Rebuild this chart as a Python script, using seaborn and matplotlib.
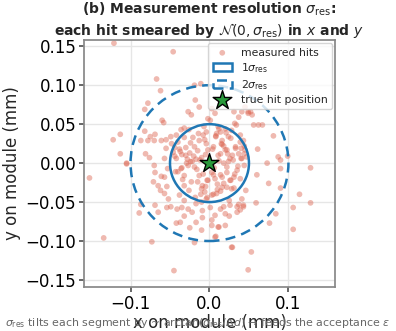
import numpy as np
import pandas as pd
import matplotlib
matplotlib.use("Agg")
import matplotlib.pyplot as plt
from matplotlib.patches import Circle
import seaborn as sns

sigma_res = 0.05
true_x = [0.0]
true_y = [0.0]

hits_x = [
    -0.121, -0.046, -0.067, -0.062, -0.078, -0.082, -0.060, -0.058, -0.019, -0.011,
    -0.018, -0.013, -0.027, -0.023, -0.002, -0.113, -0.122, -0.113, -0.082, -0.075,
    -0.069, -0.087, -0.078, -0.070, -0.081, -0.076, -0.105,
    -0.061, -0.055, -0.049, -0.042, -0.036, -0.032, -0.026, -0.032, -0.040, -0.048,
    -0.055, -0.044, -0.037, -0.030, -0.024, -0.019, -0.013, -0.008, -0.004, -0.015,
    -0.010, -0.057, -0.042, -0.035, -0.028, -0.022, -0.017, -0.004, -0.002, -0.005,
    0.003, 0.007, 0.001, 0.011, 0.009, 0.016, 0.005, 0.020, 0.024, 0.028,
    0.032, 0.037, 0.041, 0.045, 0.049, 0.054, 0.039, 0.043, 0.033, 0.037,
    0.026, 0.011, 0.045, 0.041, 0.047, 0.018,
    0.052, 0.056, 0.062, 0.067, 0.081, 0.061, 0.087, 0.090, 0.099, 0.073,
    0.090, 0.128, 0.060, 0.075, 0.090, 0.114, 0.128, 0.059, 0.043, 0.035,
    0.106, 0.084, 0.076, 0.106, 0.029, 0.053, 0.049, 0.040, 0.044, 0.035,
    0.027, 0.039, 0.046, 0.031, 0.022, 0.014, 0.005, -0.003, -0.010, 0.001,
    0.012, 0.008, 0.025, 0.039, 0.018,
    0.031, 0.049, 0.034, 0.020, 0.014, 0.008, 0.027, 0.039, 0.033, 0.022,
    0.014, 0.029, 0.044, 0.022, 0.031, 0.014, 0.005, -0.003, -0.005,
    -0.152, -0.105, -0.134, -0.073, -0.045, -0.070, -0.069, -0.061, -0.057, -0.071,
    -0.065, -0.054, -0.062, -0.057, -0.052, -0.087, -0.069, -0.054, -0.049, -0.089,
    -0.065, -0.041, -0.035, -0.027, -0.022, -0.042, -0.037, -0.025, -0.017, -0.010,
    -0.019, -0.032, -0.009, -0.009, -0.017, -0.032, -0.038, -0.053,
    -0.036, -0.032, -0.040, -0.027, -0.019, -0.013, -0.009, -0.006, -0.004, -0.010,
    -0.023, -0.015, -0.032, -0.043,
    0.003, 0.007, 0.016, 0.022, 0.026, 0.028, 0.016, 0.003, 0.009, 0.014,
    0.020, 0.007, 0.003, 0.020, 0.011, 0.026, 0.037, 0.043, 0.035, 0.025,
    0.041, 0.007, 0.028, 0.003,
    -0.012, -0.020, 0.006, 0.012, -0.025, 0.018, -0.008, 0.004, -0.016, 0.010,
    -0.030, -0.038, -0.044, -0.021, -0.014, -0.006, 0.008, 0.015, 0.023, 0.030,
    0.036, 0.040, 0.018, 0.010, -0.002, -0.011, -0.026, -0.034, -0.029, -0.018,
    -0.007, 0.012, 0.021, 0.032, 0.024, -0.035, -0.024, -0.046, 0.044, 0.016,
]
hits_y = [
    0.154, 0.143, 0.108, 0.093, 0.077, 0.069, 0.055, 0.052, 0.100, 0.102,
    0.081, 0.072, 0.066, 0.062, 0.057, 0.037, 0.030, 0.012, 0.041, 0.034,
    0.037, 0.029, 0.029, 0.029, 0.012, 0.007, 0.000,
    0.029, 0.030, 0.034, 0.036, 0.043, 0.045, 0.043, 0.033, 0.027, 0.025,
    0.019, 0.020, 0.015, 0.020, 0.026, 0.021, 0.029, 0.036, 0.040, 0.016,
    0.007, 0.006, 0.006, 0.011, 0.005, 0.002, 0.005, 0.025, 0.017, 0.011,
    0.070, 0.064, 0.055, 0.047, 0.038, 0.029, 0.021, 0.017, 0.034, 0.042,
    0.051, 0.059, 0.066, 0.072, 0.066, 0.062, 0.036, 0.029, 0.021, 0.012,
    0.006, 0.010, 0.017, 0.006, 0.008, 0.000,
    0.066, 0.049, 0.049, 0.049, 0.035, 0.018, 0.008, 0.004, 0.009, 0.000,
    -0.007, -0.006, -0.015, -0.026, -0.032, -0.040, -0.051, -0.051, -0.056, -0.056,
    -0.057, -0.065, -0.077, -0.085, -0.108, -0.114, -0.137, 0.006, -0.003, -0.009,
    -0.022, -0.020, -0.035, -0.032, -0.031, -0.036, -0.040, -0.044, -0.050, -0.057,
    -0.082, -0.094, -0.068, -0.060, -0.056,
    0.066, 0.064, 0.049, 0.044, 0.040, 0.034, 0.032, 0.027, 0.019, 0.017,
    0.012, 0.010, 0.012, -0.005, -0.018, -0.015, -0.015, -0.022, -0.030,
    -0.019, -0.001, -0.096, -0.101, -0.138, -0.003, -0.012, -0.017, -0.018, -0.024,
    -0.029, -0.030, -0.035, -0.039, -0.046, -0.053, -0.054, -0.057, -0.056, -0.064,
    -0.063, -0.059, -0.057, -0.059, -0.063, -0.077, -0.076, -0.083, -0.076, -0.086,
    -0.102, -0.068, -0.070, -0.061, -0.052, -0.048, -0.041, -0.007,
    -0.007, -0.016, -0.011, -0.003, -0.005, -0.016, -0.029, -0.037, -0.046, -0.033,
    -0.024, -0.024, -0.029, -0.011,
    -0.012, -0.020, -0.018, -0.012, -0.022, -0.033, -0.031, -0.041, -0.039, -0.059,
    -0.065, -0.067, -0.073, -0.080, -0.082, -0.054, -0.053, -0.054, -0.063, -0.048,
    -0.046, -0.095, -0.108, -0.080,
    0.004, 0.009, -0.006, 0.003, 0.013, 0.022, -0.014, 0.018, -0.008, -0.027,
    0.010, 0.018, 0.009, 0.033, 0.038, 0.030, 0.035, 0.025, 0.012, 0.004,
    -0.004, 0.019, -0.026, -0.034, -0.022, -0.040, -0.035, -0.021, 0.000, -0.044,
    0.047, 0.044, 0.039, -0.014, 0.002, -0.006, 0.002, 0.014, 0.022, 0.024,
]

xticks = [-0.1, 0.0, 0.1]
yticks = [-0.15, -0.10, -0.05, 0.00, 0.05, 0.10, 0.15]

sns.set_theme(style="whitegrid")
plt.rcParams.update({
    "font.family": ["DejaVu Sans"],
    "xtick.bottom": True, "ytick.left": True,
    "xtick.major.size": 3.5, "ytick.major.size": 3.5,
    "xtick.color": "#555555", "ytick.color": "#555555",
    "xtick.labelcolor": "black", "ytick.labelcolor": "black",
    "axes.edgecolor": "#888888", "grid.color": "#e6e6e6",
})

fig = plt.figure(figsize=(3.96, 3.31), dpi=100)
ax = fig.add_axes([0.212, 0.133, 0.634, 0.746])

df = pd.DataFrame({"x": hits_x, "y": hits_y})
sns.scatterplot(data=df, x="x", y="y", ax=ax, color="#dc6450", alpha=0.45,
                s=17, edgecolor="none", label="measured hits", zorder=2)

c1 = Circle((true_x[0], true_y[0]), sigma_res, fill=False, ec="#1f77b4", lw=1.8,
            label=r"1$\sigma_{\rm res}$", zorder=3)
c2 = Circle((true_x[0], true_y[0]), 2 * sigma_res, fill=False, ec="#1f77b4", lw=1.8,
            ls=(0, (4, 2.5)), label=r"2$\sigma_{\rm res}$", zorder=3)
ax.add_patch(c1)
ax.add_patch(c2)
ax.scatter(true_x, true_y, marker="*", s=200, color="#2a9a3c", edgecolor="black",
           linewidth=1.0, label="true hit position", zorder=4)

ax.set_xlim(-0.159, 0.159)
ax.set_ylim(-0.159, 0.158)
ax.set_xticks(xticks)
ax.set_yticks(yticks)
ax.set_xticklabels([f"{t:.1f}".replace("-", "\u2212") for t in xticks])
ax.set_yticklabels([f"{t:.2f}".replace("-", "\u2212") for t in yticks])
ax.tick_params(labelsize=12, pad=2)
ax.set_xlabel("x on module (mm)", fontsize=12, labelpad=1)
ax.set_ylabel("y on module (mm)", fontsize=12, labelpad=3)
ax.set_title("(b) Measurement resolution $\\sigma_{\\rm res}$:\n"
             "each hit smeared by $\\mathcal{N}(0,\\sigma_{\\rm res})$ in $x$ and $y$",
             fontsize=10, fontweight="bold", pad=3)

leg = ax.legend(loc="upper right", fontsize=7.8, frameon=True, framealpha=0.8,
                borderpad=0.4, handlelength=1.8, labelspacing=0.3,
                borderaxespad=0.3)

fig.text(0.5, 0.004,
         "$\\sigma_{\\rm res}$ tilts each segment by ~ arctan($\\sigma_{\\rm res}/\\Delta d$) \u2192 feeds the acceptance $\\varepsilon$",
         ha="center", va="bottom", fontsize=7.9, color="#666666")

fig.savefig("out.png", dpi=100)
